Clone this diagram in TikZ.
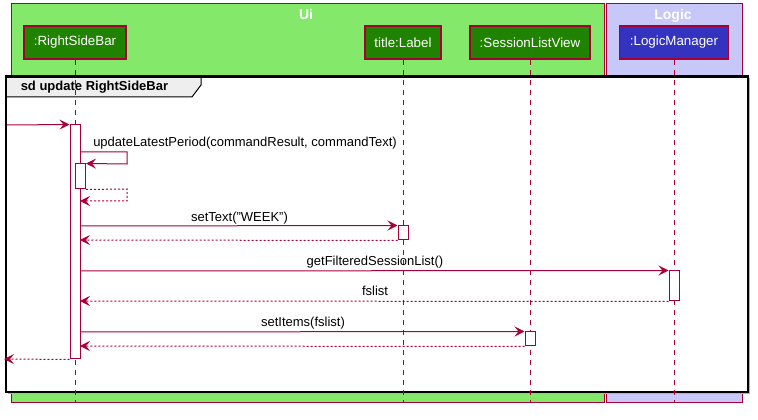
\documentclass[tikz,border=0pt]{standalone}
\usepackage{fontspec}
\setmainfont{Liberation Sans}
\usetikzlibrary{arrows.meta}
\definecolor{pu}{HTML}{A80036}
\definecolor{uibg}{HTML}{84E86B}
\definecolor{logicbg}{HTML}{C8C8F8}
\definecolor{uipart}{HTML}{1F8300}
\definecolor{logicpart}{HTML}{3333C0}
\definecolor{tabgray}{HTML}{EEEEEE}
\tikzset{
  grp/.style={draw=pu, line width=0.75pt},
  grplabel/.style={text=white, font=\bfseries\fontsize{10.5}{12}\selectfont, inner sep=0pt, anchor=base},
  part/.style={draw=pu, line width=1.1pt, text=white, font=\fontsize{10}{12}\selectfont, minimum height=24.75pt, inner sep=0pt},
  life/.style={draw=pu, line width=0.75pt, dash pattern=on 3.75pt off 3.75pt},
  act/.style={draw=pu, fill=white, line width=0.75pt, minimum width=7.5pt, inner sep=0pt},
  msg/.style={draw=pu, line width=0.75pt, -{Stealth[length=7.5pt,width=7.5pt,inset=3pt]}},
  ret/.style={msg, dash pattern=on 1.5pt off 1.5pt},
  lbl/.style={font=\fontsize{9.75}{11}\selectfont, inner sep=0pt, anchor=base}
}
\begin{document}
\begin{tikzpicture}[x=0.75pt,y=-0.75pt]
\useasboundingbox (0,0) rectangle (758,420);
% groups
\draw[grp, fill=uibg] (11,4) rectangle (604,403);
\draw[grp, fill=logicbg] (606,4) rectangle (742,403);
\node[grplabel] (uil) at (306,20) {Ui};
\node[grplabel] (logl) at (673,20) {Logic};
% participants
\node[part, fill=uipart, minimum width=76.5pt] (rsb) at (75,42.5) {:RightSideBar};
\node[part, fill=uipart, minimum width=57pt] (lab) at (403,42.5) {title:Label};
\node[part, fill=uipart, minimum width=90pt] (slv) at (530,42.5) {:SessionListView};
\node[part, fill=logicpart, minimum width=81.75pt] (lm) at (674,42.5) {:LogicManager};
% frame
\fill[black!30] (8,78.5) rectangle (750,394);
\fill[white] (6,76.5) rectangle (748,392);
\draw[black, line width=0.75pt, fill=tabgray] (6,76.5) -- (201,76.5) -- (201,85) -- (192,97) -- (6,97);
\node[font=\bfseries\fontsize{9.75}{11}\selectfont, inner sep=0pt, anchor=base west] (sdl) at (20.5,90.5) {sd update RightSideBar};
\draw[black, line width=1.8pt] (6,76.5) rectangle (748,392);
% lifelines
\coordinate (bot) at (0,403);
\draw[life] (rsb) -- (rsb |- bot);
\draw[life] (lab) -- (lab |- bot);
\draw[life] (slv) -- (slv |- bot);
\draw[life] (lm) -- (lm |- bot);
% activations
\node[act, minimum height=175.5pt] (a1) at (75,242) {};
\node[act, minimum height=18.75pt] (a1b) at (80.5,176.5) {};
\node[act, minimum height=10.5pt] (a2) at (403,233) {};
\node[act, minimum height=22.5pt] (a3) at (674,286) {};
\node[act, minimum height=10.5pt] (a4) at (530,339) {};
% incoming
\coordinate (inS) at (7,125);
\draw[msg] (inS) -- (a1.north west);
% self call
\coordinate (s0) at (80,152);
\coordinate (s1) at (127,152);
\coordinate (s2) at (127,164);
\draw[msg] (s0) -- (s1) -- (s2) -- (a1b.north east);
\node[lbl, anchor=base west] (m1) at (93,146.5) {updateLatestPeriod(commandResult, commandText)};
\coordinate (r1) at (127,189);
\coordinate (r2) at (127,201);
\coordinate (r3) at (80,201);
\draw[ret] (a1b.south east) -- (r1) -- (r2) -- (r3);
% setText
\coordinate (t0) at (80,226);
\draw[msg] (t0) -- (a2.north west);
\node[lbl] (m2) at (239.5,221.5) {setText("WEEK")};
\coordinate (t1) at (80,240);
\draw[ret] (a2.south west) -- (t1);
% getFilteredSessionList
\coordinate (g0) at (80,271);
\draw[msg] (g0) -- (a3.north west);
\node[lbl] (m3) at (375,266) {getFilteredSessionList()};
\coordinate (g1) at (80,301);
\draw[ret] (a3.south west) -- (g1);
\node[lbl] (m4) at (375,296) {fslist};
% setItems
\coordinate (i0) at (80,332);
\draw[msg] (i0) -- (a4.north west);
\node[lbl] (m5) at (303,327) {setItems(fslist)};
\coordinate (i1) at (80,346);
\draw[ret] (a4.south west) -- (i1);
% final return
\coordinate (outE) at (4,359);
\draw[ret] (a1.south west) -- (outE);
\end{tikzpicture}
\end{document}
